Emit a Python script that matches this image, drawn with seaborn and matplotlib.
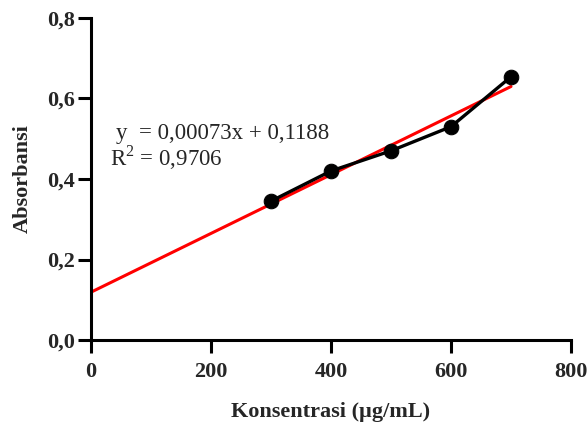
import matplotlib
matplotlib.use("Agg")
import matplotlib.pyplot as plt
import seaborn as sns
import numpy as np
import pandas as pd
from matplotlib.ticker import FuncFormatter, MultipleLocator

konsentrasi = [300, 400, 500, 600, 700]
absorbansi = [0.345, 0.420, 0.470, 0.530, 0.654]
slope = 0.00073
intercept = 0.1188
fit_x = [0, 700]
eq_text = "y  = 0,00073x + 0,1188"
r2_text = "R$^2$ = 0,9706"

sns.set_theme(style="ticks")
plt.rcParams['font.family'] = ['Liberation Serif', 'DejaVu Serif']
plt.rcParams['mathtext.fontset'] = 'custom'
plt.rcParams['mathtext.rm'] = 'Liberation Serif'

fig = plt.figure(figsize=(5.88, 4.23), dpi=100)
ax = fig.add_axes([91/588, 1-340/423, (571-91)/588, (340-18)/423])

fit_y = [intercept + slope * v for v in fit_x]
ax.plot(fit_x, fit_y, color="#ff0000", lw=2.2, zorder=2)

df = pd.DataFrame({"x": konsentrasi, "y": absorbansi})
sns.lineplot(data=df, x="x", y="y", ax=ax, color="black", lw=2.4,
             marker="o", markersize=10.5, markeredgecolor="black", zorder=3)

ax.set_xlim(0, 800)
ax.set_ylim(0, 0.8)
ax.xaxis.set_major_locator(MultipleLocator(200))
ax.yaxis.set_major_locator(MultipleLocator(0.2))
ax.yaxis.set_major_formatter(FuncFormatter(lambda v, p: f"{v:.1f}".replace(".", ",")))
ax.xaxis.set_major_formatter(FuncFormatter(lambda v, p: f"{v:.0f}"))

for s in ["top", "right"]:
    ax.spines[s].set_visible(False)
for s in ["left", "bottom"]:
    ax.spines[s].set_linewidth(2.2)
    ax.spines[s].set_color("black")
ax.tick_params(axis="both", direction="out", length=9.5, width=2.2, color="black",
               labelsize=16)
ax.tick_params(axis="x", pad=6)
ax.tick_params(axis="y", pad=2)
for lab in ax.get_xticklabels() + ax.get_yticklabels():
    lab.set_fontweight("bold")

ax.set_xlabel("Konsentrasi (µg/mL)", fontsize=16, fontweight="bold")
ax.set_ylabel("Absorbansi", fontsize=16, fontweight="bold")
ax.xaxis.set_label_coords(0.5, (340 - 402) / 322)
ax.yaxis.set_label_coords((33 - 91) / 480, 0.5)

ax.text(116/588, 1-133/423, eq_text, transform=fig.transFigure, fontsize=16.5,
        va="center", ha="left")
ax.text(110/588, 1-158/423, r2_text, transform=fig.transFigure, fontsize=16.5,
        va="center", ha="left")

fig.savefig("out.png", dpi=100)
